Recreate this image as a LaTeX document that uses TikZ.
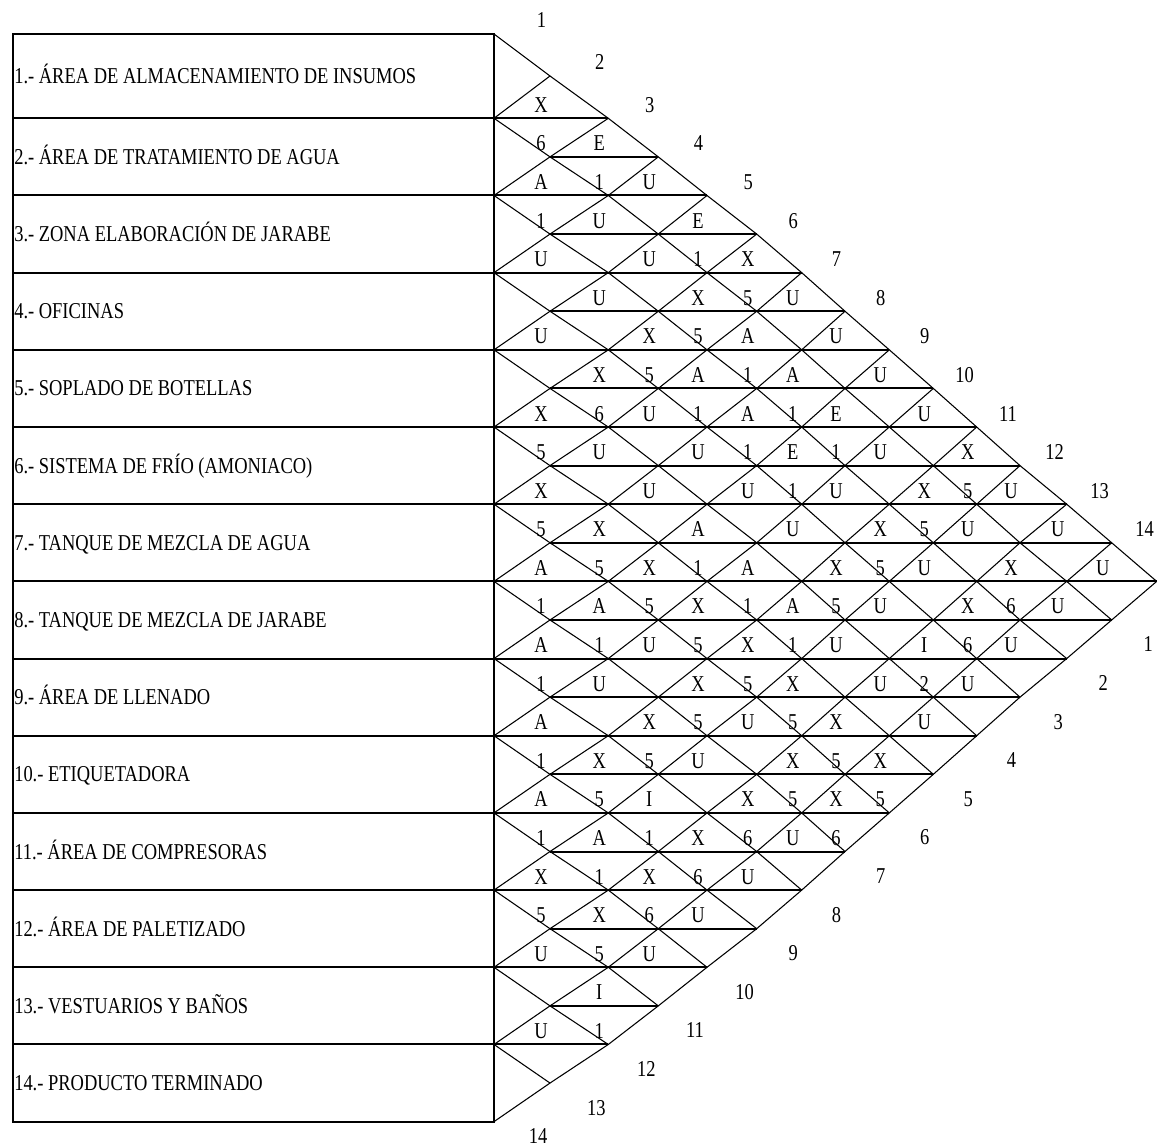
\documentclass[tikz,border=0pt]{standalone}
\usepackage{fontspec}
\setmainfont[FakeStretch=0.815]{Liberation Serif}
\newcommand\diagfont{\fontsize{17}{20}\selectfont}
\def\CX{{494,550,608.3,658.3,707,756.7,801.7,845,889.3,933.3,976.7,1020,1066.7,1111.7,1156.7}}
\newcommand\bandtext[2]{%
  \foreach \d/\t in {#2}{%
    \pgfmathsetmacro\xx{\CX[\d]-9}%
    \pgfmathsetmacro\yy{118.3+(#1-1)*38.59-6}%
    \node[relt] (t-#1-\d) at (\xx,\yy) {\t};
  }}
\begin{document}
\begin{tikzpicture}[x=0.75pt,y=-0.75pt,
  hl/.style={line width=1.5pt},
  diag/.style={line width=0.8pt, line cap=round, line join=round},
  relt/.style={inner sep=0pt, anchor=base, font=\diagfont},
  lab/.style={inner sep=0pt, anchor=base west, font=\diagfont}]
\useasboundingbox (0,0) rectangle (1157,1148);
% grid coordinates
\foreach \m in {0,...,28}{
  \pgfmathsetmacro\yy{ifthenelse(\m==0,34,ifthenelse(\m==1,76,118.3+(\m-2)*38.59))}
  \coordinate (L-\m) at (13,\yy);
  \foreach \n in {0,...,14}{
    \pgfmathsetmacro\xx{\CX[\n]}
    \coordinate (g-\n-\m) at (\xx,\yy);
  }
}
% table frame
\draw[hl] (L-0) rectangle (g-0-28);
% horizontal lines
\foreach \m in {2,...,26}{
  \pgfmathtruncatemacro\e{min(\m,28-\m)}
  \ifodd\m
    \draw[hl] (g-1-\m) -- (g-\e-\m);
  \else
    \draw[hl] (L-\m) -- (g-\e-\m);
  \fi
}
% down-right diagonals
\foreach \k in {0,...,13}{
  \pgfmathtruncatemacro\nmax{14-\k}
  \pgfmathtruncatemacro\ms{2*\k}
  \draw[diag] (g-0-\ms) \foreach \n [evaluate=\n as \mm using int(2*\k+\n)] in {1,...,\nmax} { -- (g-\n-\mm) };
}
% up-right diagonals
\foreach \k in {1,...,14}{
  \pgfmathtruncatemacro\ms{2*\k}
  \draw[diag] (g-0-\ms) \foreach \n [evaluate=\n as \mm using int(2*\k-\n)] in {1,...,\k} { -- (g-\n-\mm) };
}
% department labels
\foreach \t [count=\k] in {1.- ÁREA DE ALMACENAMIENTO DE INSUMOS,
  2.- ÁREA DE TRATAMIENTO DE AGUA,
  3.- ZONA ELABORACIÓN DE JARABE,
  4.- OFICINAS,
  5.- SOPLADO DE BOTELLAS,
  6.- SISTEMA DE FRÍO (AMONIACO),
  7.- TANQUE DE MEZCLA DE AGUA,
  8.- TANQUE DE MEZCLA DE JARABE,
  9.- ÁREA DE LLENADO,
  10.- ETIQUETADORA,
  11.- ÁREA DE COMPRESORAS,
  12.- ÁREA DE PALETIZADO,
  13.- VESTUARIOS Y BAÑOS,
  14.- PRODUCTO TERMINADO}{
  \pgfmathsetmacro\yy{ifthenelse(\k==1,76,118.3+(2*\k-3)*38.59)+7.5}
  \node[lab] (dep-\k) at (14,\yy) {\t};
}
% column numbers, top edge
\foreach \k in {1,...,14}{
  \pgfmathsetmacro\xx{\CX[\k]-ifthenelse(\k<10,8.5,12)}
  \pgfmathsetmacro\yy{ifthenelse(\k==1,34,ifthenelse(\k==2,76,118.3+(\k-3)*38.59))-6}
  \node[relt] (ct-\k) at (\xx,\yy) {\k};
}
% column numbers, bottom edge
\foreach \k in {1,...,14}{
  \pgfmathtruncatemacro\q{15-\k}
  \pgfmathsetmacro\xx{\CX[\q]-ifthenelse(\k<10,8.5,12)}
  \pgfmathsetmacro\yy{ifthenelse(\k==14,1143.5,118.3+(12+\k)*38.59+32)}
  \node[relt] (cb-\k) at (\xx,\yy) {\k};
}
% relationship codes and reasons
\bandtext{1}{1/X}
\bandtext{2}{1/6,2/E}
\bandtext{3}{1/A,2/1,3/U}
\bandtext{4}{1/1,2/U,4/E}
\bandtext{5}{1/U,3/U,4/1,5/X}
\bandtext{6}{2/U,4/X,5/5,6/U}
\bandtext{7}{1/U,3/X,4/5,5/A,7/U}
\bandtext{8}{2/X,3/5,4/A,5/1,6/A,8/U}
\bandtext{9}{1/X,2/6,3/U,4/1,5/A,6/1,7/E,9/U}
\bandtext{10}{1/5,2/U,4/U,5/1,6/E,7/1,8/U,10/X}
\bandtext{11}{1/X,3/U,5/U,6/1,7/U,9/X,10/5,11/U}
\bandtext{12}{1/5,2/X,4/A,6/U,8/X,9/5,10/U,12/U}
\bandtext{13}{1/A,2/5,3/X,4/1,5/A,7/X,8/5,9/U,11/X,13/U}
\bandtext{14}{1/1,2/A,3/5,4/X,5/1,6/A,7/5,8/U,10/X,11/6,12/U}
\bandtext{15}{1/A,2/1,3/U,4/5,5/X,6/1,7/U,9/I,10/6,11/U}
\bandtext{16}{1/1,2/U,4/X,5/5,6/X,8/U,9/2,10/U}
\bandtext{17}{1/A,3/X,4/5,5/U,6/5,7/X,9/U}
\bandtext{18}{1/1,2/X,3/5,4/U,6/X,7/5,8/X}
\bandtext{19}{1/A,2/5,3/I,5/X,6/5,7/X,8/5}
\bandtext{20}{1/1,2/A,3/1,4/X,5/6,6/U,7/6}
\bandtext{21}{1/X,2/1,3/X,4/6,5/U}
\bandtext{22}{1/5,2/X,3/6,4/U}
\bandtext{23}{1/U,2/5,3/U}
\bandtext{24}{2/I}
\bandtext{25}{1/U,2/1}
\end{tikzpicture}
\end{document}
